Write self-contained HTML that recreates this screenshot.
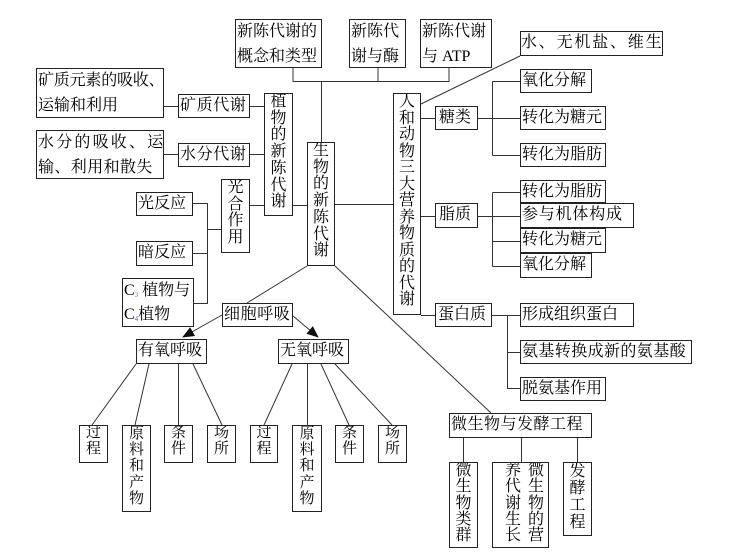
<!DOCTYPE html>
<html><head><meta charset="utf-8">
<style>
html,body{margin:0;padding:0}
body{width:734px;height:555px;background:#fff;position:relative;overflow:hidden}
.b{position:absolute;border:1px solid #222;box-sizing:border-box;font-family:"Liberation Serif","Noto Serif CJK SC","Noto Sans CJK SC",serif;font-size:16px;color:#000;white-space:nowrap;overflow:hidden;background:#fff}
.h{line-height:22px;padding-left:1px}
.t{line-height:24.5px;padding-left:1px}
.v{text-align:center;white-space:normal;word-break:break-all;line-height:16.7px;padding:0}
.s{font-size:15px;line-height:15.5px}
.col{position:absolute;top:0;width:18px;text-align:center;white-space:normal;word-break:break-all;line-height:16.3px}
svg{position:absolute;left:0;top:0}
sub{font-size:7px;vertical-align:-2px;line-height:0}
</style></head><body>
<svg width="734" height="555" viewBox="0 0 734 555">
<defs>
<marker id="ar" markerUnits="userSpaceOnUse" markerWidth="12" markerHeight="10" refX="11" refY="5" orient="auto">
<path d="M0,0 L12,5 L0,10 Z" fill="#111"/>
</marker>
</defs>
<g stroke="#333" stroke-width="1" fill="none">
<path d="M293,68 V81.5 H449 V68 M378,68 V81.5 M321.5,81.5 V142"/>
<path d="M164,106.5 H178 M250,106.5 H264 M164,154.5 H178 M250,154.5 H264"/>
<path d="M250,205.5 H264 M293,205.5 H307 M335,204.5 H393"/>
<path d="M193,203.5 H207.5 V303.5 H193 M193,253.5 H207.5 M207.5,229.5 H221"/>
<path d="M307,266 L247,303"/>
<path d="M335,266 L491,413"/>
<path d="M136,364 L92,425 M149,364 L135,425 M178.5,364 V425 M193,364 L222,425"/>
<path d="M292,364 L264,425 M307.5,364 V425 M321,364 L349,425 M335,364 L392,425"/>
<path d="M463.5,438 V462 M521.5,438 V462 M577.5,438 V462"/>
<path d="M421,104 L520,56"/>
<path d="M421,118.5 H435 M478,118.5 H520 M492.5,81.5 V155.5 M492.5,81.5 H520 M492.5,155.5 H520"/>
<path d="M421,216.5 H435 M478,216.5 H520 M492.5,192.5 V266.5 M492.5,192.5 H520 M492.5,241.5 H520 M492.5,266.5 H520"/>
<path d="M421,315.5 H435 M492,315.5 H520 M507.5,315.5 V388.5 H520 M507.5,352.5 H520"/>
<path d="M222,315 L183,337" marker-end="url(#ar)"/>
<path d="M293,316 L318,337" marker-end="url(#ar)"/>
</g>
</svg>

<div class="b t" style="left:235px;top:19px;width:87px;height:49px">新陈代谢的<br>概念和类型</div>
<div class="b t" style="left:349px;top:19px;width:57px;height:49px">新陈代<br>谢与酶</div>
<div class="b t" style="left:420px;top:19px;width:72px;height:49px">新陈代谢<br>与 ATP</div>
<div class="b h" style="left:520px;top:31px;width:143px;height:25px;letter-spacing:1.8px;padding-left:0">水、无机盐、维生</div>

<div class="b t" style="left:36px;top:68px;width:128px;height:50px"><span style="letter-spacing:-0.2px">矿质元素的吸收、</span><br>运输和利用</div>
<div class="b t" style="left:36px;top:130px;width:128px;height:49px"><span style="letter-spacing:2.2px">水分的吸收、运</span><br><span style="letter-spacing:0.4px">输、利用和散失</span></div>
<div class="b h" style="left:178px;top:94px;width:72px;height:24px;letter-spacing:0.6px">矿质代谢</div>
<div class="b h" style="left:178px;top:143px;width:72px;height:24px;letter-spacing:0.6px">水分代谢</div>

<div class="b v" style="left:264px;top:93px;width:29px;height:123px">植物的新陈代谢</div>
<div class="b v" style="left:307px;top:142px;width:28px;height:124px">生物的新陈代谢</div>
<div class="b v" style="left:221px;top:179px;width:29px;height:74px">光合作用</div>

<div class="b h" style="left:136px;top:192px;width:57px;height:24px">光反应</div>
<div class="b h" style="left:136px;top:241px;width:57px;height:25px">暗反应</div>
<div class="b t" style="left:122px;top:278px;width:72px;height:49px;line-height:24px"><div style="height:24px">C<sub style="color:#c60">3</sub> 植物与</div><div style="height:23px">C<sub style="color:#36c">4</sub>植物</div></div>

<div class="b h" style="left:222px;top:303px;width:71px;height:24px;letter-spacing:0.6px">细胞呼吸</div>
<div class="b h" style="left:136px;top:339px;width:71px;height:25px">有氧呼吸</div>
<div class="b h" style="left:278px;top:339px;width:71px;height:25px">无氧呼吸</div>

<div class="b v s" style="left:79px;top:425px;width:29px;height:38px">过程</div>
<div class="b v s" style="left:122px;top:425px;width:29px;height:87px;line-height:16.2px">原料和产物</div>
<div class="b v s" style="left:164px;top:425px;width:29px;height:38px">条件</div>
<div class="b v s" style="left:207px;top:425px;width:29px;height:38px">场所</div>
<div class="b v s" style="left:250px;top:425px;width:28px;height:38px">过程</div>
<div class="b v s" style="left:292px;top:425px;width:30px;height:87px;line-height:16.2px">原料和产物</div>
<div class="b v s" style="left:335px;top:425px;width:29px;height:38px">条件</div>
<div class="b v s" style="left:378px;top:425px;width:29px;height:38px">场所</div>

<div class="b v" style="left:393px;top:93px;width:28px;height:222px;line-height:16.5px">人和动物三大营养物质的代谢</div>

<div class="b h" style="left:435px;top:106px;width:43px;height:24px;padding-left:3px">糖类</div>
<div class="b h" style="left:520px;top:69px;width:72px;height:24px">氧化分解</div>
<div class="b h" style="left:520px;top:106px;width:86px;height:24px">转化为糖元</div>
<div class="b h" style="left:520px;top:143px;width:86px;height:24px">转化为脂肪</div>

<div class="b h" style="left:435px;top:203px;width:43px;height:25px;padding-left:3px">脂质</div>
<div class="b h" style="left:520px;top:180px;width:86px;height:23px;line-height:21px">转化为脂肪</div>
<div class="b h" style="left:520px;top:203px;width:114px;height:25px;letter-spacing:0.8px">参与机体构成</div>
<div class="b h" style="left:520px;top:228px;width:86px;height:25px">转化为糖元</div>
<div class="b h" style="left:520px;top:253px;width:72px;height:25px">氧化分解</div>

<div class="b h" style="left:435px;top:303px;width:57px;height:24px;padding-left:2px">蛋白质</div>
<div class="b h" style="left:520px;top:303px;width:114px;height:24px">形成组织蛋白</div>
<div class="b h" style="left:520px;top:340px;width:172px;height:24px;letter-spacing:0.4px">氨基转换成新的氨基酸</div>
<div class="b h" style="left:520px;top:377px;width:86px;height:24px">脱氨基作用</div>

<div class="b h" style="left:449px;top:413px;width:143px;height:25px;letter-spacing:0.5px">微生物与发酵工程</div>
<div class="b v" style="left:449px;top:462px;width:29px;height:86px;line-height:16.3px">微生物类群</div>
<div class="b" style="left:492px;top:462px;width:57px;height:86px">
  <div class="col" style="left:34px">微生物的营</div>
  <div class="col" style="left:11px">养代谢生长</div>
</div>
<div class="b v" style="left:563px;top:462px;width:29px;height:74px;line-height:17px">发酵工程</div>
</body></html>
